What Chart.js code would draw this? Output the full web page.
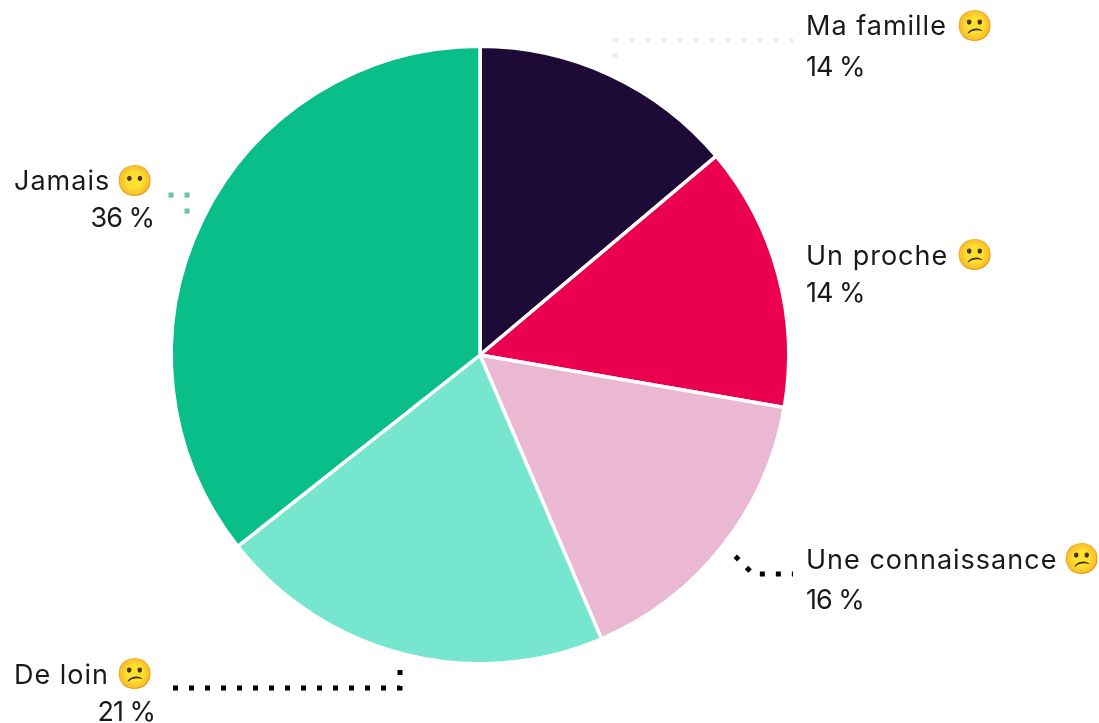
<!DOCTYPE html>
<html><head><meta charset="utf-8">
<style>html,body{margin:0;padding:0;background:#fff;overflow:hidden}#w{position:relative;width:1099px;height:723px}canvas{display:block}</style>
<script src="https://cdn.jsdelivr.net/npm/chart.js@4"></script>
</head><body><div id="w"><canvas id="c" width="1099" height="723"></canvas></div>
<script>
const categories = ["Ma famille","Un proche","Une connaissance","De loin","Jamais"];
const values = [14,14,16,21,36];
const valueLabels = ["14 %","14 %","16 %","21 %","36 %"];
const moods = ["😕","😕","😕","😕","😶"];
const colors = ["#1E0A36","#EA004E","#EAB8D3","#76E6CE","#09BE88"];
const leaderColors = ["#EEEEEE","#FFFFFF","#000000","#000000","#66C49A"];
const notes = [
 {x:806,y1:35,y2:76,emojiX:975,emojiY:27,leader:[[615,58],[615,40.5],[793,40.5]]},
 {x:806,y1:265,y2:302,emojiX:975,emojiY:256,leader:null},
 {x:806,y1:569,y2:609,emojiX:1082,emojiY:560,leader:[[735.2,556.2],[753,574],[793,574]]},
 {x:14,y1:684,y2:721,rightX:155,emojiX:135,emojiY:675,leader:[[173,688],[400,688],[400,669]]},
 {x:14,y1:190,y2:227,rightX:154,emojiX:135,emojiY:182,leader:[[168.5,195],[187,195],[187,214]]}
];
const FONT='27px Inter, "Open Sans", sans-serif';
const notesPlugin={id:"notes",afterDraw(chart){
 const c=chart.ctx;c.save();
 categories.forEach((cat,i)=>{
  const n=notes[i];
  if(n.leader){c.beginPath();c.strokeStyle=leaderColors[i];c.lineWidth=5;c.lineCap="butt";c.setLineDash([5,11]);
   n.leader.forEach((p,k)=>k?c.lineTo(p[0],p[1]):c.moveTo(p[0],p[1]));c.stroke();c.setLineDash([]);}
  c.fillStyle="#1a1a1a";c.textBaseline="alphabetic";c.font=FONT;c.textAlign="left";
  c.letterSpacing="1px";
  c.fillText(cat,n.x,n.y1);
  c.letterSpacing="-1px";
  if(n.rightX){c.textAlign="right";c.fillText(valueLabels[i],n.rightX,n.y2);}
  else c.fillText(valueLabels[i],n.x,n.y2);
  c.letterSpacing="0px";
  c.textAlign="center";c.textBaseline="middle";c.font='30px "Noto Color Emoji", "DejaVu Sans", sans-serif';
  c.fillText(moods[i],n.emojiX,n.emojiY);
 });
 c.restore();
}};
new Chart(document.getElementById("c"),{type:"pie",
 data:{labels:categories,datasets:[{data:values,backgroundColor:colors,borderColor:"#FFFFFF",borderWidth:3.5}]},
 options:{responsive:false,animation:false,
  layout:{padding:{left:169.5,right:308.5,top:44.5,bottom:57.5}},
  plugins:{legend:{display:false},tooltip:{enabled:false}}},
 plugins:[notesPlugin]});
</script></body></html>
